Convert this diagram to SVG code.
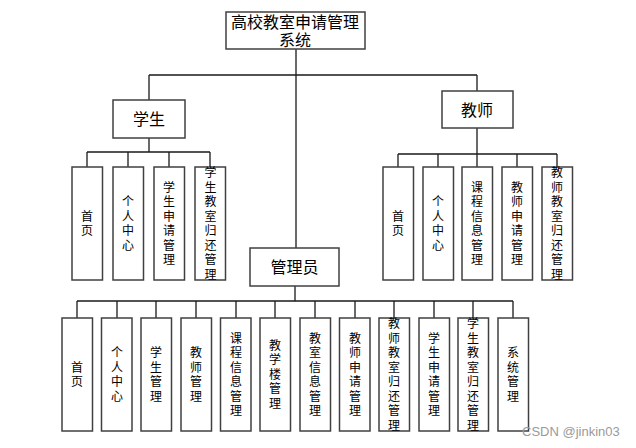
<svg xmlns="http://www.w3.org/2000/svg" width="636" height="448" viewBox="0 0 636 448">
<style>
.box{fill:#fff;stroke:#404040;stroke-width:1.5}
.ln{fill:none;stroke:#1a1a1a;stroke-width:1.3}
.t{font-family:"Noto Sans CJK SC","Liberation Sans",sans-serif;fill:#000;text-anchor:middle}
.big{font-size:16px}
.v{font-size:12px;writing-mode:vertical-rl;letter-spacing:2.5px}
.wm{font-family:"Liberation Sans",Arial,sans-serif;font-size:13px;fill:#9a9a9a}
</style>
<rect width="636" height="448" fill="#fff"/>
<g id="connectors">
<path class="ln" d="M296 49V248M149 75H477M149 75V100M477 75V91"/>
<path class="ln" d="M149 138V152M87 152H210M87 152V167M128 152V167M169 152V167M210 152V167"/>
<path class="ln" d="M477 128V154M398 154H557M398 154V167M438 154V167M477 154V167M517 154V167M557 154V167"/>
<path class="ln" d="M295 286V301M77 301H513M77 301V318M117 301V318M156 301V318M196 301V318M236 301V318M275 301V318M315 301V318M355 301V318M394 301V318M434 301V318M473 301V318M513 301V318"/>
</g>
<g id="root"><rect class="box" x="226" y="12" width="139" height="37"/><text class="t big" x="295" y="28">高校教室申请管理</text><text class="t big" x="295" y="46">系统</text></g>
<g id="student"><rect class="box" x="113" y="100" width="72" height="38"/><text class="t big" x="149" y="125">学生</text></g>
<g id="teacher"><rect class="box" x="442" y="91" width="71" height="37"/><text class="t big" x="477" y="116">教师</text></g>
<g id="admin"><rect class="box" x="250" y="248" width="89" height="38"/><text class="t big" x="294.5" y="273">管理员</text></g>

<g id="s1"><rect class="box" x="72" y="167" width="30.5" height="113"/><text class="t v" x="87" y="224.7">首页</text></g>
<g id="s2"><rect class="box" x="113" y="167" width="30.5" height="113"/><text class="t v" x="128" y="224.7">个人中心</text></g>
<g id="s3"><rect class="box" x="154" y="167" width="30.5" height="113"/><text class="t v" x="169" y="224.7">学生申请管理</text></g>
<g id="s4"><rect class="box" x="195" y="167" width="30.5" height="113"/><text class="t v" x="210.5" y="224.7">学生教室归还管理</text></g>

<g id="t1"><rect class="box" x="383" y="167" width="30.5" height="113"/><text class="t v" x="398" y="224.7">首页</text></g>
<g id="t2"><rect class="box" x="423" y="167" width="30.5" height="113"/><text class="t v" x="438" y="224.7">个人中心</text></g>
<g id="t3"><rect class="box" x="462" y="167" width="30.5" height="113"/><text class="t v" x="477" y="224.7">课程信息管理</text></g>
<g id="t4"><rect class="box" x="502" y="167" width="30.5" height="113"/><text class="t v" x="517" y="224.7">教师申请管理</text></g>
<g id="t5"><rect class="box" x="542" y="167" width="30.5" height="113"/><text class="t v" x="557" y="224.7">教师教室归还管理</text></g>

<g id="a1"><rect class="box" x="62" y="318" width="30.5" height="113"/><text class="t v" x="77" y="375.7">首页</text></g>
<g id="a2"><rect class="box" x="101.5" y="318" width="30.5" height="113"/><text class="t v" x="117" y="375.7">个人中心</text></g>
<g id="a3"><rect class="box" x="141" y="318" width="30.5" height="113"/><text class="t v" x="156" y="375.7">学生管理</text></g>
<g id="a4"><rect class="box" x="181" y="318" width="30.5" height="113"/><text class="t v" x="196" y="375.7">教师管理</text></g>
<g id="a5"><rect class="box" x="220.5" y="318" width="30.5" height="113"/><text class="t v" x="236" y="375.7">课程信息管理</text></g>
<g id="a6"><rect class="box" x="260" y="318" width="30.5" height="113"/><text class="t v" x="275" y="375.7">教学楼管理</text></g>
<g id="a7"><rect class="box" x="300" y="318" width="30.5" height="113"/><text class="t v" x="315" y="375.7">教室信息管理</text></g>
<g id="a8"><rect class="box" x="339.5" y="318" width="30.5" height="113"/><text class="t v" x="355" y="375.7">教师申请管理</text></g>
<g id="a9"><rect class="box" x="379" y="318" width="30.5" height="113"/><text class="t v" x="394" y="375.7">教师教室归还管理</text></g>
<g id="a10"><rect class="box" x="419" y="318" width="30.5" height="113"/><text class="t v" x="434" y="375.7">学生申请管理</text></g>
<g id="a11"><rect class="box" x="458" y="318" width="30.5" height="113"/><text class="t v" x="473" y="375.7">学生教室归还管理</text></g>
<g id="a12"><rect class="box" x="498" y="318" width="30.5" height="113"/><text class="t v" x="513" y="375.7">系统管理</text></g>

<text class="wm" x="522" y="436">CSDN @jinkin03</text>
</svg>
